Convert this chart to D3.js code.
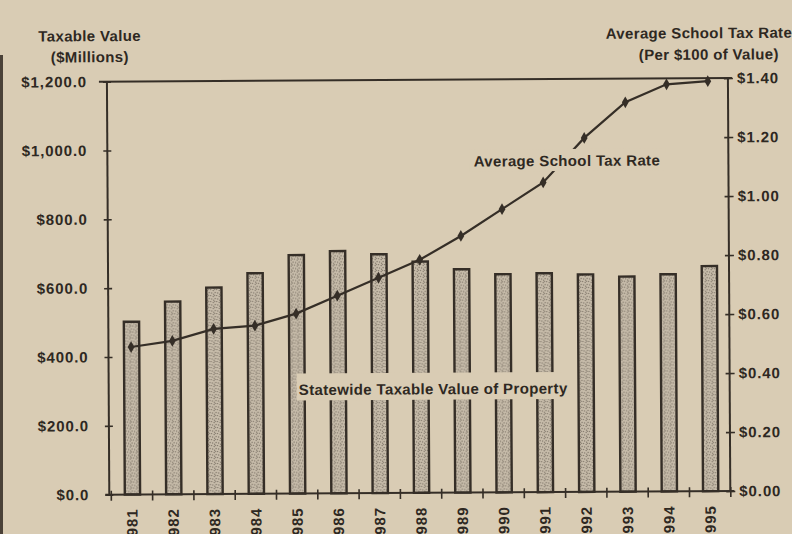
<!DOCTYPE html>
<html>
<head>
<meta charset="utf-8">
<script src="https://cdn.jsdelivr.net/npm/d3@7"></script>
<style>
  body { margin: 0; background: #d9ccb4; }
  svg { display: block; }
  text { font-family: "Liberation Sans", Arial, Helvetica, sans-serif; font-weight: bold; fill: #2e2822; }
</style>
</head>
<body>
<svg id="chart" width="792" height="534"></svg>
<script>
// data
const years = ['1981', '1982', '1983', '1984', '1985', '1986', '1987', '1988',
  '1989', '1990', '1991', '1992', '1993', '1994', '1995'];
const taxableValue = [502, 560, 600, 641, 693, 704, 694, 672, 649, 634, 636, 632, 625, 631, 654];
const taxRate = [0.50, 0.52, 0.56, 0.57, 0.61, 0.67, 0.73, 0.79, 0.87, 0.96, 1.05, 1.20, 1.32, 1.38, 1.39];
const valueTicks = [0, 200, 400, 600, 800, 1000, 1200];
const rateTicks = [0, 0.2, 0.4, 0.6, 0.8, 1.0, 1.2, 1.4];

const paper = '#d9ccb4',
  ink = '#352e27';

const svg = d3.select('#chart');
svg.append('rect').attr('width', 792).attr('height', 534).attr('fill', paper);

// stipple fill for the bars
const defs = svg.append('defs');
const pat = defs.append('pattern')
  .attr('id', 'stipple')
  .attr('width', 6)
  .attr('height', 6)
  .attr('patternUnits', 'userSpaceOnUse');
pat.append('rect').attr('width', 6).attr('height', 6).attr('fill', '#c8bdab');
[[0.5, 0.5], [3.2, 1.4], [5.1, 3.6], [1.6, 3.9], [3.6, 5.2], [4.6, 0.3]].forEach(p => {
  pat.append('circle').attr('cx', p[0]).attr('cy', p[1]).attr('r', 0.75).attr('fill', '#83796c');
});

// scan edge on the left
svg.append('line')
  .attr('x1', 1.5).attr('x2', 1.5)
  .attr('y1', 55).attr('y2', 534)
  .attr('stroke', '#4a4138').attr('stroke-width', 3);

// the clipping was scanned a little crooked
const g = svg.append('g').attr('transform', 'rotate(-0.33,396,267)');

const x = d3.scaleBand().domain(years).range([110, 729.5]).padding(0);
const yLeft = d3.scaleLinear().domain([0, 1200]).range([493, 80]);
const yRight = d3.scaleLinear().domain([0, 1.4]).range([493, 80]);
const barW = x.bandwidth() * 0.37;

// bars
g.selectAll('rect.bar')
  .data(taxableValue)
  .enter()
  .append('rect')
  .attr('class', 'bar')
  .attr('x', (d, i) => x(years[i]) + (x.bandwidth() - barW) / 2 + 0.5)
  .attr('y', d => yLeft(d))
  .attr('width', barW)
  .attr('height', d => yLeft(0) - yLeft(d))
  .attr('fill', 'url(#stipple)')
  .attr('stroke', ink)
  .attr('stroke-width', 2.4);

// frame lines
g.append('line').attr('x1', 100).attr('x2', 733).attr('y1', 80).attr('y2', 80)
  .attr('stroke', ink).attr('stroke-width', 2);
g.append('line').attr('x1', 108).attr('x2', 108).attr('y1', 80).attr('y2', 493)
  .attr('stroke', ink).attr('stroke-width', 2);
g.append('line').attr('x1', 729).attr('x2', 729).attr('y1', 80).attr('y2', 493)
  .attr('stroke', ink).attr('stroke-width', 2);
g.append('line').attr('x1', 104).attr('x2', 733).attr('y1', 493).attr('y2', 493)
  .attr('stroke', ink).attr('stroke-width', 2);

// left axis
const leftAxis = g.append('g')
  .attr('transform', 'translate(108,0)')
  .call(d3.axisLeft(yLeft).tickValues(valueTicks).tickFormat(d3.format('$,.1f')).tickSize(4));
leftAxis.select('.domain').remove();
leftAxis.selectAll('line').attr('x1', 4).attr('x2', -4).attr('stroke', ink).attr('stroke-width', 1.6);
leftAxis.selectAll('text')
  .attr('x', -20)
  .style('font-size', '15px')
  .style('letter-spacing', '0.9px')
  .attr('font-family', null);

// right axis
const rightAxis = g.append('g')
  .attr('transform', 'translate(729,0)')
  .call(d3.axisRight(yRight).tickValues(rateTicks).tickFormat(d3.format('$.2f')).tickSize(5));
rightAxis.select('.domain').remove();
rightAxis.selectAll('line').attr('x1', -4).attr('x2', 5).attr('stroke', ink).attr('stroke-width', 1.6);
rightAxis.selectAll('text')
  .attr('x', 9)
  .style('font-size', '15px')
  .style('letter-spacing', '0.9px')
  .attr('font-family', null);

// bottom ticks sit between the bars
const bounds = years.map(d => x(d)).concat([x.range()[1]]);
g.selectAll('line.xtick')
  .data(bounds)
  .enter()
  .append('line')
  .attr('class', 'xtick')
  .attr('x1', d => d).attr('x2', d => d)
  .attr('y1', 489).attr('y2', 499)
  .attr('stroke', ink).attr('stroke-width', 1.6);

// year labels run off the bottom of the clipping, as in the scan
g.selectAll('text.year')
  .data(years)
  .enter()
  .append('text')
  .attr('class', 'year')
  .attr('transform', d => 'translate(' + (x(d) + x.bandwidth() / 2) + ',507) rotate(-90)')
  .attr('text-anchor', 'end')
  .attr('dy', '0.36em')
  .style('font-size', '15px')
  .style('letter-spacing', '0.9px')
  .text(d => d);

// tax rate line
const line = d3.line()
  .x((d, i) => x(years[i]) + x.bandwidth() / 2)
  .y(d => yRight(d));
g.append('path')
  .datum(taxRate)
  .attr('d', line)
  .attr('fill', 'none')
  .attr('stroke', ink)
  .attr('stroke-width', 2.2);
g.selectAll('path.dot')
  .data(taxRate)
  .enter()
  .append('path')
  .attr('class', 'dot')
  .attr('d', d3.symbol(d3.symbolDiamond, 40))
  .attr('transform', (d, i) => 'translate(' + (x(years[i]) + x.bandwidth() / 2) + ',' + yRight(d) + ')')
  .attr('fill', ink);

// in-chart labels, knocked out of the marks behind them
g.append('rect').attr('x', 470).attr('y', 150).attr('width', 196).attr('height', 22).attr('fill', paper);
g.append('text')
  .attr('x', 567.5).attr('y', 167)
  .attr('text-anchor', 'middle')
  .style('font-size', '15px')
  .style('letter-spacing', '0.35px')
  .text('Average School Tax Rate');

g.append('rect').attr('x', 296).attr('y', 373).attr('width', 274).attr('height', 27).attr('fill', paper);
g.append('text')
  .attr('x', 432.5).attr('y', 394.5)
  .attr('text-anchor', 'middle')
  .style('font-size', '15px')
  .style('letter-spacing', '0.35px')
  .text('Statewide Taxable Value of Property');

// axis titles
const titles = [
  { t: 'Taxable Value', x: 91, y: 39.5, a: 'middle' },
  { t: '($Millions)', x: 91, y: 60.5, a: 'middle' },
  { t: 'Average School Tax Rate', x: 607, y: 40, a: 'start' },
  { t: '(Per $100 of Value)', x: 710, y: 61.5, a: 'middle' },
];
g.selectAll('text.title')
  .data(titles)
  .enter()
  .append('text')
  .attr('class', 'title')
  .attr('x', d => d.x)
  .attr('y', d => d.y)
  .attr('text-anchor', d => d.a)
  .style('font-size', '15px')
  .style('letter-spacing', '0.35px')
  .text(d => d.t);
</script>
</body>
</html>
